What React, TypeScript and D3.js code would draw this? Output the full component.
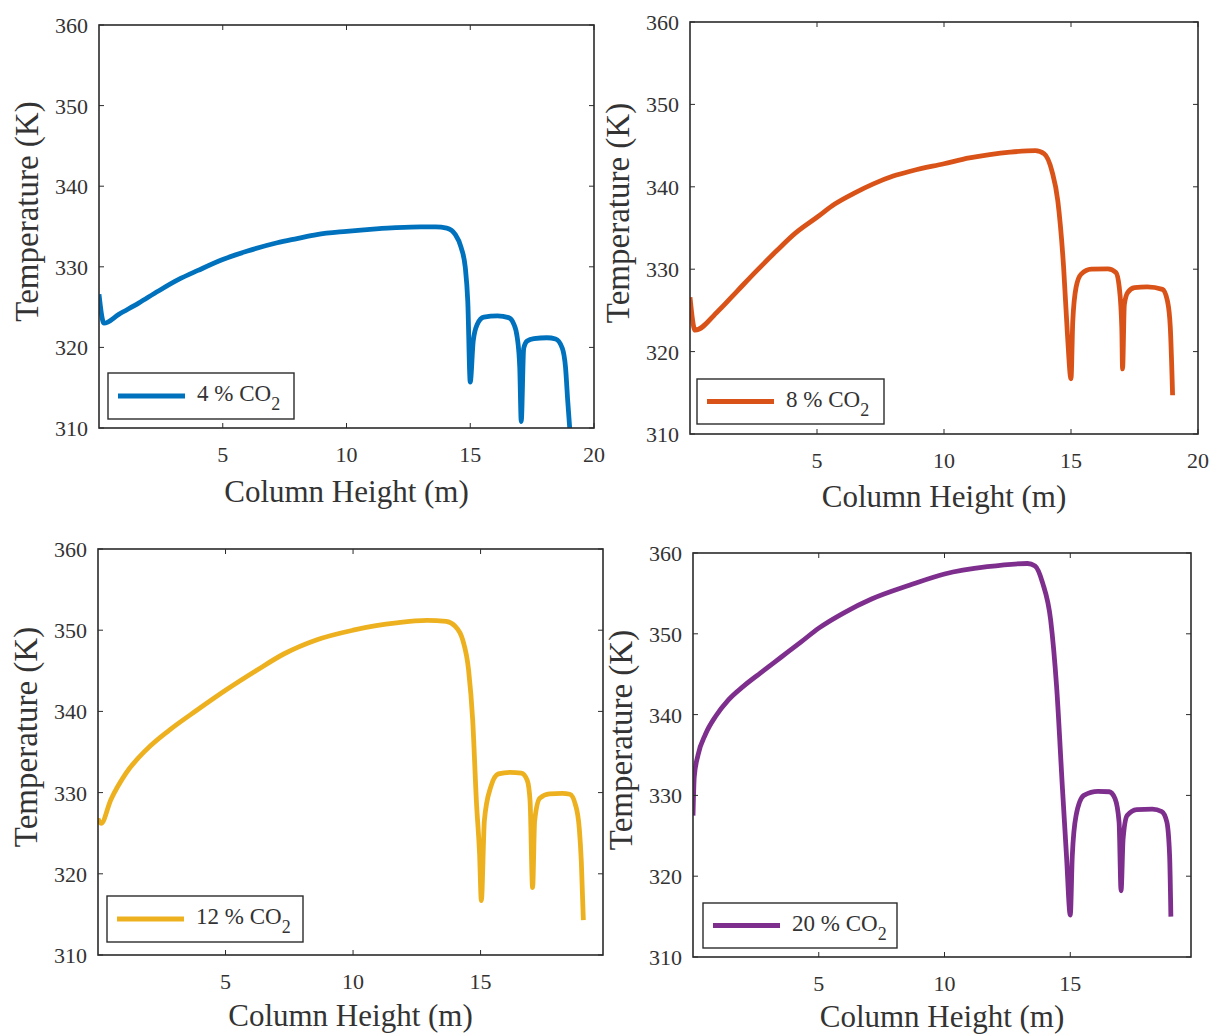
import React from "react";
import * as d3 from "d3";

// Temperature profiles along the absorber column for four CO2 feed fractions.
const heightCO2_4 = [
  0, 0.2, 0.8, 1.6, 2.4, 3.2, 4.0, 5.0, 6.0, 7.2, 8.0, 8.8, 10.0, 11.2, 12.0, 13.0, 13.6,
  14.05, 14.4, 14.63, 14.8, 14.9, 15.0, 15.12, 15.28, 15.55, 16.1, 16.55, 16.76, 16.9, 17.0,
  17.06, 17.16, 17.3, 17.57, 18.1, 18.45, 18.72, 18.85, 18.94, 19.03,
];
const tempCO2_4 = [
  326.6, 323.0, 324.1, 325.5, 327.0, 328.4, 329.55, 330.9, 331.95, 332.98, 333.5, 334.0, 334.4,
  334.7, 334.85, 334.95, 334.95, 334.8, 334.0, 332.4, 329.9, 325.7, 315.7, 320.8, 322.85, 323.75,
  323.9, 323.7, 322.9, 321.2, 317.5, 310.8, 319.9, 320.8, 321.1, 321.2, 321.05, 319.9, 317.5,
  313.3, 309.5,
];

const heightCO2_8 = [
  0, 0.2, 1.1, 1.86, 2.62, 3.4, 4.16, 5.0, 5.7, 6.45, 7.22, 8.0, 8.75, 10.0, 11.0, 11.8, 12.6,
  13.6, 13.95, 14.25, 14.48, 14.71, 14.86, 15.0, 15.07, 15.2, 15.4, 15.8, 16.45, 16.77, 16.9,
  17.0, 17.03, 17.1, 17.23, 17.5, 18.0, 18.6, 18.8, 18.91, 19.0,
];
const tempCO2_8 = [
  326.6, 322.6, 324.9, 327.35, 329.8, 332.2, 334.4, 336.3, 337.9, 339.2, 340.35, 341.3, 341.95,
  342.8, 343.5, 343.9, 344.2, 344.4, 344.0, 341.9, 338.3, 330.2, 322.1, 316.7, 323.7, 327.8,
  329.4, 330.0, 330.05, 329.6, 327.8, 322.9, 317.9, 325.7, 327.15, 327.75, 327.85, 327.55,
  326.1, 322.9, 314.7,
];

const heightCO2_12 = [
  0, 0.12, 0.5, 1.1, 1.9, 2.8, 3.9, 5.0, 6.24, 7.3, 8.56, 10.0, 10.9, 11.7, 12.9, 13.65, 14.0,
  14.3, 14.53, 14.69, 14.84, 14.96, 15.03, 15.15, 15.4, 15.7, 16.15, 16.6, 16.83, 16.94, 17.04,
  17.12, 17.32, 17.7, 18.2, 18.5, 18.72, 18.87, 18.95, 19.03,
];
const tempCO2_12 = [
  326.8, 326.2, 329.1, 332.4, 335.3, 337.7, 340.2, 342.6, 345.1, 347.1, 348.8, 350.0, 350.55,
  350.9, 351.2, 351.1, 350.5, 348.8, 345.1, 339.0, 328.7, 322.5, 316.7, 326.6, 330.7, 332.3,
  332.5, 332.4, 331.5, 329.0, 318.3, 326.5, 329.3, 329.85, 329.9, 329.8, 328.5, 325.6, 321.5,
  314.3,
];

const heightCO2_20 = [
  0, 0.05, 0.2, 0.5, 0.9, 1.4, 2.0, 2.7, 3.5, 4.3, 5.0, 6.0, 7.1, 8.6, 10.0, 11.7, 13.3, 13.6,
  13.9, 14.22, 14.46, 14.69, 14.85, 15.0, 15.08, 15.23, 15.54, 16.1, 16.55, 16.78, 16.94, 17.02,
  17.1, 17.26, 17.64, 18.26, 18.64, 18.84, 18.95, 19.0,
];
const tempCO2_20 = [
  327.5, 332.3, 335.0, 337.6, 339.8, 341.8, 343.5, 345.2, 347.1, 349.0, 350.7, 352.6, 354.3,
  356.0, 357.4, 358.3, 358.7, 358.4, 356.3, 351.7, 343.3, 330.8, 322.5, 315.2, 322.5, 327.5,
  330.0, 330.5, 330.45, 329.6, 326.7, 318.2, 324.6, 327.5, 328.25, 328.3, 328.0, 326.7, 322.5,
  315.0,
];

const co2Fractions = ["4", "8", "12", "20"];
const seriesColors = ["#0072BD", "#D95319", "#EDB120", "#7E2F8E"];
const seriesHeights = [heightCO2_4, heightCO2_8, heightCO2_12, heightCO2_20];
const seriesTemps = [tempCO2_4, tempCO2_8, tempCO2_12, tempCO2_20];

const tempTicks = [310, 320, 330, 340, 350, 360];
const heightTicksLong = [5, 10, 15, 20];
const heightTicksShort = [5, 10, 15];
const heightMax = [20, 20, 19.8, 19.8];
const tempDomain = [310, 360];

const xAxisTitle = "Column Height (m)";
const yAxisTitle = "Temperature (K)";

// Placement of each of the four axes boxes on the page.
const panels = [
  { left: 99, right: 594, top: 25, bottom: 428, lgDx: 9, lgDy: 9, lgW: 186, lgH: 46, xlab: 74 },
  { left: 690, right: 1198, top: 22, bottom: 434, lgDx: 7, lgDy: 10, lgW: 187, lgH: 45, xlab: 73 },
  { left: 98, right: 603, top: 549, bottom: 955, lgDx: 9, lgDy: 13, lgW: 196, lgH: 46, xlab: 71 },
  { left: 693, right: 1191, top: 553, bottom: 957, lgDx: 10, lgDy: 9, lgW: 194, lgH: 45, xlab: 70 },
];

const FONT = '"Liberation Serif", "Times New Roman", Times, serif';
const AXIS_COLOR = "#2b2b2b";
const TEXT_COLOR = "#333333";

function Panel({ idx }: { idx: number }) {
  const p = panels[idx];
  const xTicks = idx < 2 ? heightTicksLong : heightTicksShort;
  const x = d3.scaleLinear().domain([0, heightMax[idx]]).range([p.left, p.right]);
  const y = d3.scaleLinear().domain(tempDomain).range([p.bottom, p.top]);
  const heights = seriesHeights[idx];
  const temps = seriesTemps[idx];
  const pts: [number, number][] = heights.map((h, i) => [h, temps[i]]);
  const line = d3
    .line<[number, number]>()
    .x((d) => x(d[0]))
    .y((d) => y(d[1]))
    .curve(d3.curveMonotoneX);
  const clipId = `plot-clip-${idx}`;
  const tickLen = 5;
  const lgX = p.left + p.lgDx;
  const lgY = p.bottom - p.lgDy - p.lgH;
  const color = seriesColors[idx];
  const midY = (p.top + p.bottom) / 2;

  return (
    <g>
      <defs>
        <clipPath id={clipId}>
          <rect x={p.left} y={p.top} width={p.right - p.left} height={p.bottom - p.top} />
        </clipPath>
      </defs>
      <rect x={p.left} y={p.top} width={p.right - p.left} height={p.bottom - p.top} fill="#fff" />

      {/* data curve */}
      <path
        d={line(pts) || ""}
        fill="none"
        stroke={color}
        strokeWidth={4.8}
        strokeLinejoin="round"
        clipPath={`url(#${clipId})`}
      />

      {/* inward tick marks on all four sides */}
      {xTicks.map((t) => (
        <g key={`xt${t}`}>
          <line x1={x(t)} x2={x(t)} y1={p.bottom} y2={p.bottom - tickLen} stroke={AXIS_COLOR} strokeWidth={1} />
          <line x1={x(t)} x2={x(t)} y1={p.top} y2={p.top + tickLen} stroke={AXIS_COLOR} strokeWidth={1} />
        </g>
      ))}
      {tempTicks.map((t) => (
        <g key={`yt${t}`}>
          <line x1={p.left} x2={p.left + tickLen} y1={y(t)} y2={y(t)} stroke={AXIS_COLOR} strokeWidth={1} />
          <line x1={p.right} x2={p.right - tickLen} y1={y(t)} y2={y(t)} stroke={AXIS_COLOR} strokeWidth={1} />
        </g>
      ))}

      {/* axes box */}
      <rect
        x={p.left}
        y={p.top}
        width={p.right - p.left}
        height={p.bottom - p.top}
        fill="none"
        stroke={AXIS_COLOR}
        strokeWidth={1.6}
      />

      {/* tick labels */}
      {xTicks.map((t) => (
        <text
          key={`xl${t}`}
          x={x(t)}
          y={p.bottom + 34}
          textAnchor="middle"
          fontFamily={FONT}
          fontSize={22}
          fill={TEXT_COLOR}
        >
          {t}
        </text>
      ))}
      {tempTicks.map((t) => (
        <text
          key={`yl${t}`}
          x={p.left - 11}
          y={y(t) + 8}
          textAnchor="end"
          fontFamily={FONT}
          fontSize={22}
          fill={TEXT_COLOR}
        >
          {t}
        </text>
      ))}

      {/* axis titles */}
      <text
        x={(p.left + p.right) / 2}
        y={p.bottom + p.xlab}
        textAnchor="middle"
        fontFamily={FONT}
        fontSize={31}
        fill={TEXT_COLOR}
      >
        {xAxisTitle}
      </text>
      <text
        transform={`translate(${p.left - 61},${midY - 15}) rotate(-90)`}
        textAnchor="middle"
        fontFamily={FONT}
        fontSize={33}
        fill={TEXT_COLOR}
      >
        {yAxisTitle}
      </text>

      {/* legend */}
      <rect x={lgX} y={lgY} width={p.lgW} height={p.lgH} fill="#fff" stroke={AXIS_COLOR} strokeWidth={1.4} />
      <line
        x1={lgX + 10}
        x2={lgX + 77}
        y1={lgY + p.lgH / 2}
        y2={lgY + p.lgH / 2}
        stroke={color}
        strokeWidth={4.8}
      />
      <text x={lgX + 89} y={lgY + 28} fontFamily={FONT} fontSize={23} fill={TEXT_COLOR}>
        {`${co2Fractions[idx]} % CO`}
        <tspan dy={9} fontSize={18}>
          2
        </tspan>
      </text>
    </g>
  );
}

export default function App() {
  return (
    <svg
      width={1210}
      height={1035}
      viewBox="0 0 1210 1035"
      style={{ position: "absolute", left: 0, top: 0, background: "#fff" }}
    >
      <rect width={1210} height={1035} fill="#fff" />
      {panels.map((_, i) => (
        <Panel key={i} idx={i} />
      ))}
    </svg>
  );
}
